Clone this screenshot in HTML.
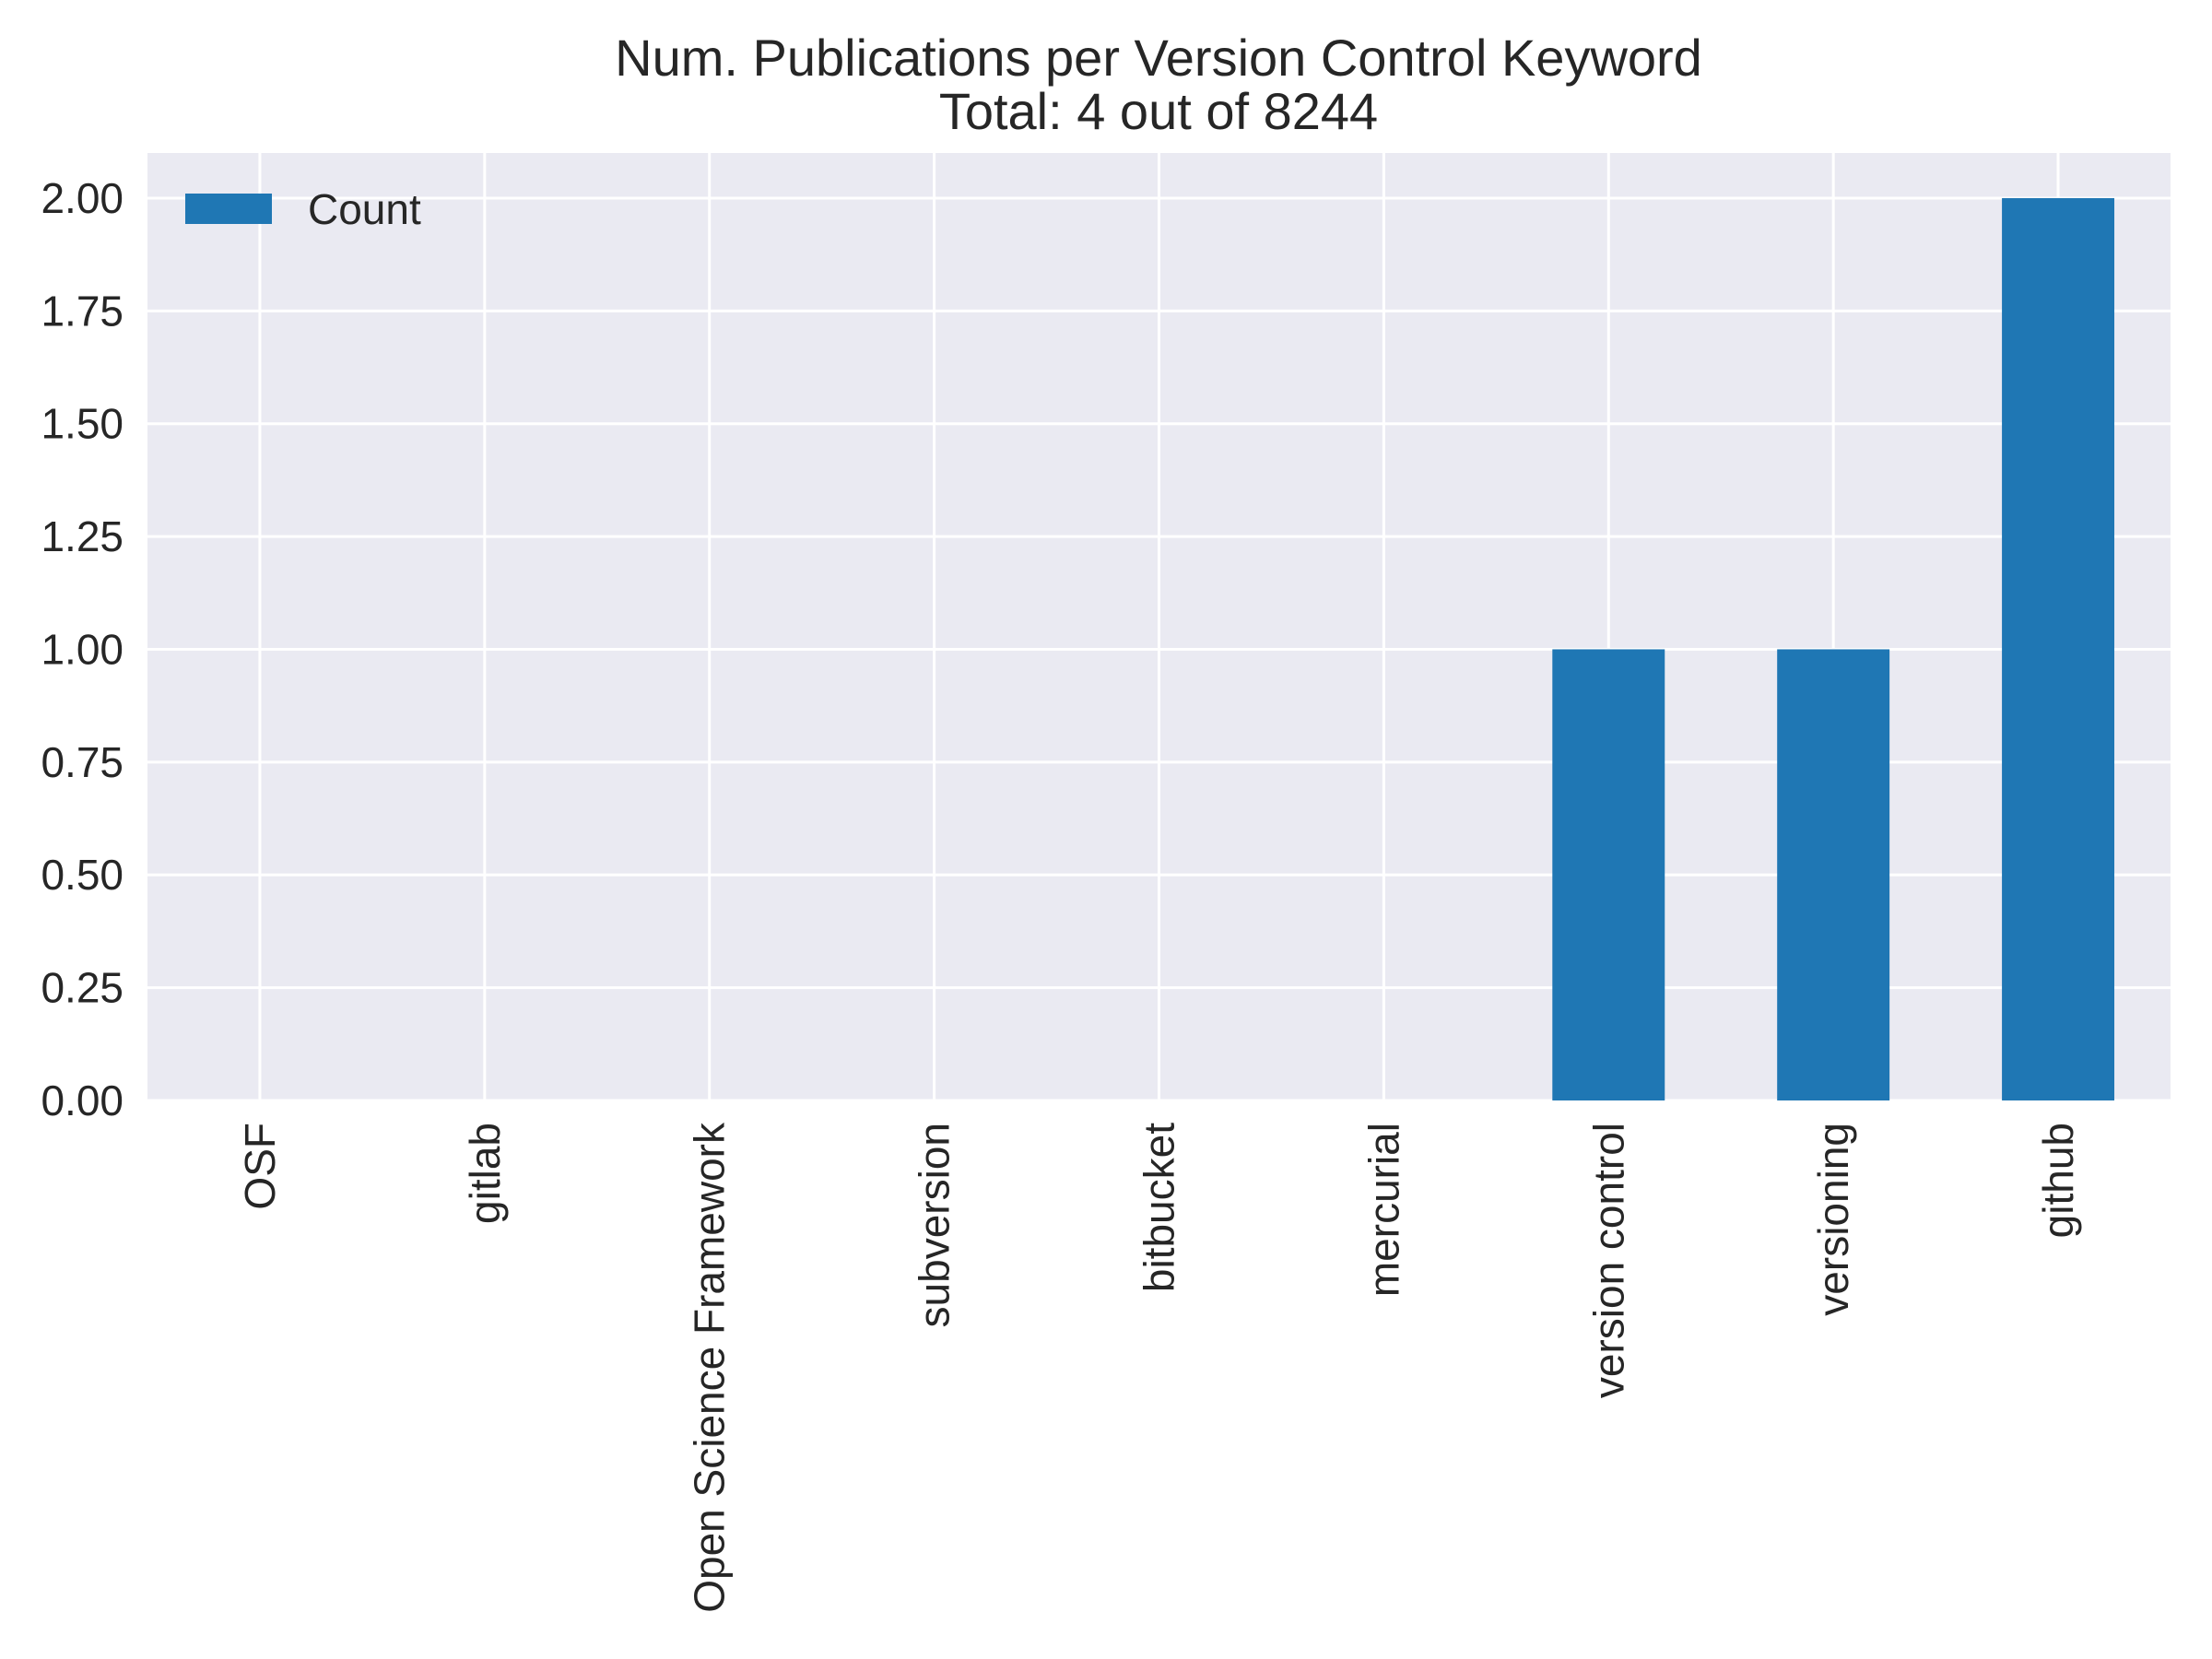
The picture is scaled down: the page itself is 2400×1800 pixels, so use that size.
<!DOCTYPE html>
<html><head><meta charset="utf-8"><style>
html,body{margin:0;padding:0;background:#fff}
svg{display:block;font-family:"Liberation Sans",Arial,sans-serif}
</style></head><body>
<svg id="chart" width="2400" height="1800" viewBox="0 0 2400 1800">
<rect x="0" y="0" width="2400" height="1800" fill="#ffffff"/>
<text x="1257" y="82" font-size="56" fill="#262626" text-anchor="middle">Num. Publications per Version Control Keyword</text>
<text x="1257" y="140" font-size="56" fill="#262626" text-anchor="middle">Total: 4 out of 8244</text>
<rect x="160" y="166" width="2195" height="1028" fill="#eaeaf2"/>
<g id="grid"></g>
<g id="bars"></g>
<g id="yticks"></g>
<g id="xticks"></g>
<g>
<rect x="201" y="210" width="94" height="33" fill="#1f77b4"/>
<text x="334" y="243" font-size="46" fill="#262626">Count</text>
</g>
</svg>
<script>
const categories = ["OSF","gitlab","Open Science Framework","subversion","bitbucket","mercurial","version control","versioning","github"];
const counts = [0,0,0,0,0,0,1,1,2];
const yTicks = [0,0.25,0.5,0.75,1.0,1.25,1.5,1.75,2.0];
const yTickLabels = ["0.00","0.25","0.50","0.75","1.00","1.25","1.50","1.75","2.00"];

const NS="http://www.w3.org/2000/svg";
const L=160,R=2355,T=166,B=1194,yMax=2.1;
const step=(R-L)/categories.length;
function xC(i){return L+step*(i+0.5);}
function yS(v){return B-(v/yMax)*(B-T);}
const grid=document.getElementById('grid'),bars=document.getElementById('bars'),yt=document.getElementById('yticks'),xt=document.getElementById('xticks');
yTicks.forEach((v,i)=>{
  const ln=document.createElementNS(NS,'line');
  ln.setAttribute('x1',L);ln.setAttribute('x2',R);ln.setAttribute('y1',yS(v));ln.setAttribute('y2',yS(v));
  ln.setAttribute('stroke','#fff');ln.setAttribute('stroke-width','3');
  
  
  grid.appendChild(ln);
  const t=document.createElementNS(NS,'text');
  t.setAttribute('x',134);t.setAttribute('y',yS(v)+16);t.setAttribute('text-anchor','end');
  t.setAttribute('font-size','46');t.setAttribute('fill','#262626');
  t.textContent=yTickLabels[i];
  
  
  yt.appendChild(t);
});
categories.forEach((c,i)=>{
  const ln=document.createElementNS(NS,'line');
  ln.setAttribute('x1',xC(i));ln.setAttribute('x2',xC(i));ln.setAttribute('y1',T);ln.setAttribute('y2',B);
  ln.setAttribute('stroke','#fff');ln.setAttribute('stroke-width','3');
  
  
  grid.appendChild(ln);
  const w=step*0.5;
  const r=document.createElementNS(NS,'rect');
  r.setAttribute('x',xC(i)-w/2);r.setAttribute('width',w);
  r.setAttribute('y',yS(counts[i]));r.setAttribute('height',B-yS(counts[i]));
  r.setAttribute('fill','#1f77b4');
  
  
  bars.appendChild(r);
  const t=document.createElementNS(NS,'text');
  t.setAttribute('transform','translate('+(xC(i)+16)+',1218) rotate(-90)');
  t.setAttribute('text-anchor','end');t.setAttribute('font-size','46');t.setAttribute('fill','#262626');
  t.textContent=c;
  
  
  xt.appendChild(t);
});
</script>
</body></html>
